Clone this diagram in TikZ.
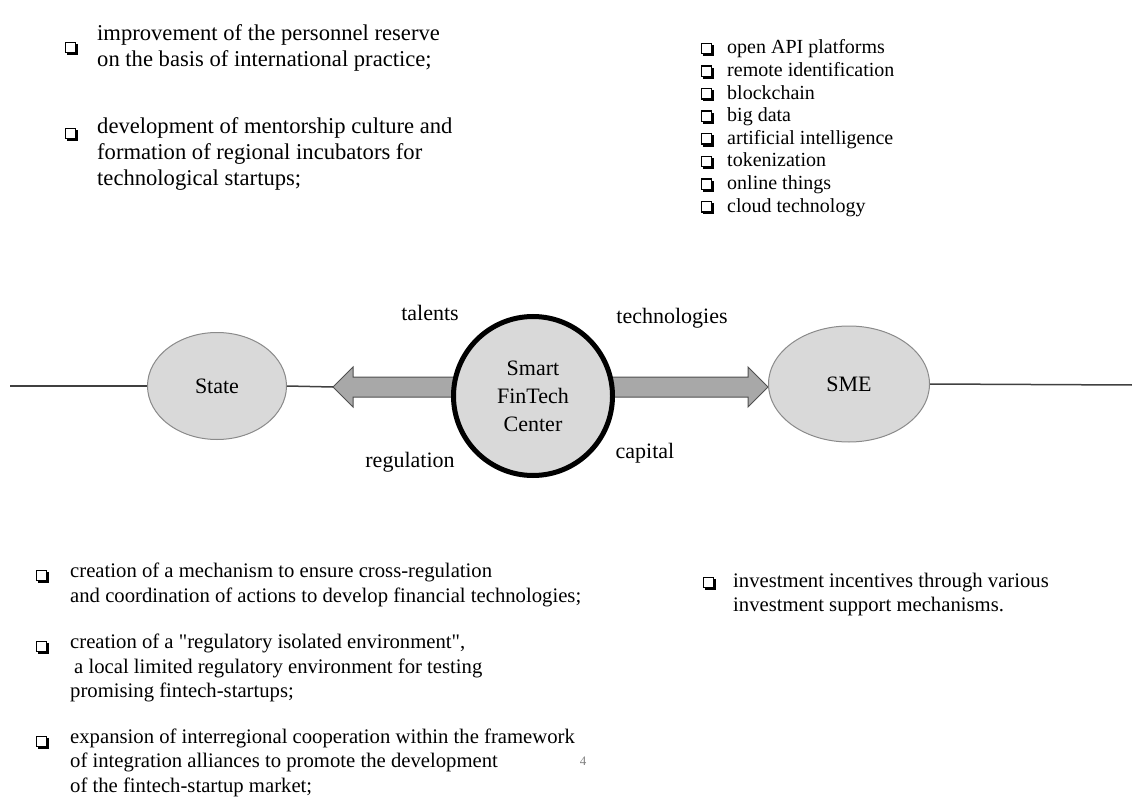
\documentclass[tikz,border=0pt]{standalone}
\usepackage{fontspec}
\setmainfont{Liberation Serif}[Ligatures=TeXOff]
\usetikzlibrary{calc,backgrounds,shapes.geometric}
\definecolor{ellfill}{HTML}{D9D9D9}
\definecolor{ellline}{HTML}{8A8A8A}
\definecolor{arrfill}{HTML}{A8A8A8}
\definecolor{arrline}{HTML}{505050}
\definecolor{axisline}{HTML}{404040}
\begin{document}
\begin{tikzpicture}[x=1pt,y=-1pt,
  chk/.pic={\fill[black] (-4,-4) rectangle (7.3,7.3);
            \filldraw[fill=white,draw=black,line width=1.4pt] (-5.7,-5.7) rectangle (4.7,4.7);},
  bigtxt/.style={anchor=west,inner sep=0pt,align=left,font=\fontsize{22.6}{26}\selectfont},
  midtxt/.style={anchor=west,inner sep=0pt,align=left,font=\fontsize{20.7}{24.5}\selectfont},
  listtxt/.style={anchor=west,inner sep=0pt,align=left,font=\fontsize{20}{22.6}\selectfont},
  actor/.style={ellipse,draw=ellline,fill=ellfill,line width=1pt,font=\fontsize{22}{28}\selectfont},
  hub/.style={ellipse,draw=black,fill=ellfill,line width=5pt,minimum width=159pt,minimum height=159pt,align=center,font=\fontsize{22}{28}\selectfont},
  flowlbl/.style={inner sep=0pt,font=\fontsize{22}{26}\selectfont},
  bigarrow/.style={fill=arrfill,draw=arrline,line width=1pt},
  axis/.style={draw=axisline,line width=1.5pt}]
\useasboundingbox (0,0) rectangle (1132,810);

% top-left list
\pic at (71,48) {chk};
\node[bigtxt] (tl1) at (97,48) {improvement of the personnel reserve\\on the basis of international practice;};
\pic at (71,134) {chk};
\node[bigtxt] (tl2) at (97,154) {development of mentorship culture and\\formation of regional incubators for\\technological startups;};

% top-right list
\foreach \k in {0,...,7} {\pic at (707,{49+22.6*\k}) {chk};}
\node[listtxt] (tr) at (727,128.1) {open API platforms\\remote identification\\blockchain\\big data\\artificial intelligence\\tokenization\\online things\\cloud technology};

% centre
\coordinate (L) at (10,386);
\coordinate (R) at (1132,385);
\node[actor,minimum width=139pt,minimum height=107pt] (state) at (217,386) {State};
\node[hub] (hub) at (533,396) {Smart\\FinTech\\Center};
\node[actor,minimum width=161pt,minimum height=116pt] (sme) at (849,384) {SME};
\coordinate (tipL) at (333,387);
\coordinate (tipR) at (768,387);

\begin{scope}[on background layer]
\filldraw[bigarrow] ($(hub.center |- tipL)+(-60,-10)$) -- ($(tipL)+(20,-10)$) -- ($(tipL)+(20,-20)$) -- (tipL)
   -- ($(tipL)+(20,20)$) -- ($(tipL)+(20,10)$) -- ($(hub.center |- tipL)+(-60,10)$) -- cycle;
\filldraw[bigarrow] ($(hub.center |- tipR)+(60,-10)$) -- ($(tipR)+(-20,-10)$) -- ($(tipR)+(-20,-20)$) -- (tipR)
   -- ($(tipR)+(-20,20)$) -- ($(tipR)+(-20,10)$) -- ($(hub.center |- tipR)+(60,10)$) -- cycle;
\end{scope}
\draw[axis] (L) -- (state.west);
\draw[axis] (state.east) -- (tipL);
\draw[axis] (sme.east) -- (R);

\node[flowlbl] (talents) at (430,313) {talents};
\node[flowlbl] (tech) at (672,318) {technologies};
\node[flowlbl] (regul) at (410,462) {regulation};
\node[flowlbl] (capital) at (645,453) {capital};

% bottom-left list
\pic at (42,576) {chk};
\node[midtxt] (bl1) at (70,585) {creation of a mechanism to ensure cross-regulation\\and coordination of actions to develop financial technologies;};
\pic at (42,647) {chk};
\node[midtxt] (bl2) at (70,668) {creation of a "regulatory isolated environment",\\\hspace*{4pt}a local limited regulatory environment for testing\\promising fintech-startups;};
\pic at (42,742) {chk};
\node[midtxt] (bl3) at (70,762.5) {expansion of interregional cooperation within the framework\\of integration alliances to promote the development\\of the fintech-startup market;};

% bottom-right list
\pic at (709,583) {chk};
\node[midtxt] (br) at (733,594.5) {investment incentives through various\\investment support mechanisms.};

\node[inner sep=0pt,text=gray,font=\fontsize{13}{15}\selectfont] (page) at (583,761) {4};
\end{tikzpicture}
\end{document}
